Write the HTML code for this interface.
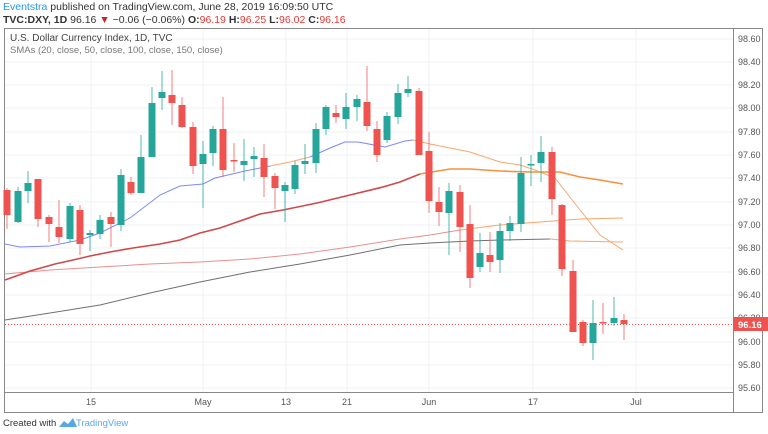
<!DOCTYPE html>
<html><head><meta charset="utf-8"><style>
body{margin:0;background:#fff;width:768px;height:434px;overflow:hidden;font-family:"Liberation Sans",sans-serif}
svg{position:absolute;left:0;top:0}
</style></head><body>
<svg width="768" height="434" xmlns="http://www.w3.org/2000/svg" font-family="Liberation Sans, sans-serif">
<text x="3" y="10" font-size="10.5" fill="#333"><tspan fill="#2196f3">Eventstra</tspan> published on TradingView.com, June 28, 2019 16:09:50 UTC</text>
<text x="3" y="23" font-size="10.5" fill="#333"><tspan font-weight="bold">TVC:DXY, 1D</tspan> 96.16 <tspan fill="#c62828">▼</tspan> −0.06 (−0.06%) <tspan font-weight="bold">O:</tspan><tspan fill="#e53935">96.19</tspan> <tspan font-weight="bold">H:</tspan><tspan fill="#e53935">96.25</tspan> <tspan font-weight="bold">L:</tspan><tspan fill="#e53935">96.02</tspan> <tspan font-weight="bold">C:</tspan><tspan fill="#e53935">96.16</tspan></text>
<rect x="4.5" y="28.5" width="758" height="384" fill="none" stroke="#888"/>
<g stroke="#eef1f5" stroke-width="1">
<line x1="5" x2="733" y1="39" y2="39"/><line x1="5" x2="733" y1="62" y2="62"/><line x1="5" x2="733" y1="85" y2="85"/><line x1="5" x2="733" y1="108" y2="108"/><line x1="5" x2="733" y1="132" y2="132"/><line x1="5" x2="733" y1="155" y2="155"/><line x1="5" x2="733" y1="178" y2="178"/><line x1="5" x2="733" y1="202" y2="202"/><line x1="5" x2="733" y1="225" y2="225"/><line x1="5" x2="733" y1="248" y2="248"/><line x1="5" x2="733" y1="272" y2="272"/><line x1="5" x2="733" y1="295" y2="295"/><line x1="5" x2="733" y1="318" y2="318"/><line x1="5" x2="733" y1="342" y2="342"/><line x1="5" x2="733" y1="365" y2="365"/><line x1="5" x2="733" y1="388" y2="388"/>
<line x1="91" x2="91" y1="29" y2="392"/><line x1="203" x2="203" y1="29" y2="392"/><line x1="286" x2="286" y1="29" y2="392"/><line x1="347" x2="347" y1="29" y2="392"/><line x1="429" x2="429" y1="29" y2="392"/><line x1="533" x2="533" y1="29" y2="392"/><line x1="636" x2="636" y1="29" y2="392"/>
</g>
<line x1="733.5" x2="733.5" y1="29" y2="412" stroke="#888"/>
<line x1="5" x2="733" y1="392.5" y2="392.5" stroke="#888"/>
<text x="10" y="41" font-size="10" fill="#444">U.S. Dollar Currency Index, 1D, TVC</text>
<text x="10" y="53" font-size="9.5" fill="#777">SMAs (20, close, 50, close, 100, close, 150, close)</text>
<g font-size="9" fill="#555">
<text x="738" y="42">98.60</text><text x="738" y="65">98.40</text><text x="738" y="88">98.20</text><text x="738" y="111">98.00</text><text x="738" y="135">97.80</text><text x="738" y="158">97.60</text><text x="738" y="181">97.40</text><text x="738" y="205">97.20</text><text x="738" y="228">97.00</text><text x="738" y="251">96.80</text><text x="738" y="275">96.60</text><text x="738" y="298">96.40</text><text x="738" y="321">96.20</text><text x="738" y="345">96.00</text><text x="738" y="368">95.80</text><text x="738" y="391">95.60</text>
</g>
<g font-size="9" fill="#555" text-anchor="middle">
<text x="91" y="405">15</text><text x="203" y="405">May</text><text x="286" y="405">13</text><text x="347" y="405">21</text><text x="429" y="405">Jun</text><text x="533" y="405">17</text><text x="636" y="405">Jul</text>
</g>
<g fill="none" stroke-width="1">
<polyline stroke="#333" stroke-opacity=".7" points="5,320 50,313 100,305 150,293 200,282 250,272 300,264 350,255 400,245 430,243 470,241 500,240 550,239"/>
<polyline stroke="#f9a66a" points="550,239 570,241 623,242"/>
<polyline stroke="#e57373" stroke-opacity=".8" points="5,274 50,270 100,267 150,264 200,262 250,259 300,254 350,247 400,239 430,235 460,230"/>
<polyline stroke="#f9a66a" points="460,230 500,225 540,222 580,219 623,218"/>
<polyline stroke="#5c6bf0" stroke-opacity=".8" points="5,244 20,247 50,246 80,240 100,233 130,218 160,195 180,186 203,184 215,178 245,171 270,166"/>
<polyline stroke="#f9a66a" points="270,166 290,162 310,157"/>
<polyline stroke="#5c6bf0" stroke-opacity=".8" points="310,157 330,148 345,142 358,142 385,147 405,141 413,140"/>
<polyline stroke="#f9a66a" points="413,140 430,144 450,148 470,152 500,162 520,165 535,170 555,178 580,210 600,235 623,250"/>
<polyline stroke="#d04848" stroke-width="1.6" points="5,280 30,271 55,264 73,260 90,256 110,252 133,248 160,244 180,240 200,233 220,228 240,221 260,214 283,210 317,203 350,195 383,187 400,182 420,174"/>
<polyline stroke="#f7913c" stroke-width="1.6" points="420,174 450,169 470,169 500,171 530,172 560,172 580,177 600,180 623,184"/>
</g>
<line x1="5" x2="733" y1="324.5" y2="324.5" stroke="#ef5350" stroke-dasharray="1,2"/>
<path stroke="#26a69a" stroke-opacity=".8" fill="none" d="M18 187V223M28 171V203M70 203V242M90 230V251M100 215V239M121 169V231M141 135V193M152 87V157M162 71V110M203 141V208M213 126V166M244 139V181M254 147V177M285 182V222M295 161V194M305 144V174M316 123V173M326 105V135M346 93V129M357 95V121M387 112V143M398 84V124M408 76V97M449 183V255M480 233V272M500 223V273M510 216V241M521 157V232M531 155V186M541 136V182M593 300V360M614 297V326"/>
<path stroke="#ef5350" stroke-opacity=".75" fill="none" d="M7 188V229M38 179V227M49 215V242M59 200V243M80 205V255M111 212V247M131 177V195M172 70V125M182 97V128M193 122V174M223 97V177M234 143V172M264 144V197M275 173V209M336 105V123M367 66V131M377 121V162M419 88V155M429 132V213M439 187V226M460 185V252M470 205V288M490 232V272M552 147V215M562 204V276M573 260V332M583 320V346M603 303V334M624 314V340"/>
<g fill="#26a69a">
<rect x="14.5" y="191" width="7" height="31"/><rect x="24.5" y="183" width="7" height="8"/><rect x="66.5" y="206" width="7" height="33"/><rect x="86.5" y="233" width="7" height="2"/><rect x="96.5" y="220" width="7" height="14"/><rect x="117.5" y="175" width="7" height="50"/><rect x="137.5" y="157" width="7" height="36"/><rect x="148.5" y="103" width="7" height="54"/><rect x="158.5" y="92" width="7" height="6"/><rect x="199.5" y="154" width="7" height="10"/><rect x="209.5" y="129" width="7" height="24"/><rect x="240.5" y="161" width="7" height="4"/><rect x="250.5" y="156" width="7" height="3"/><rect x="281.5" y="185" width="7" height="6"/><rect x="291.5" y="165" width="7" height="24"/><rect x="301.5" y="161" width="7" height="3"/><rect x="312.5" y="129" width="7" height="34"/><rect x="322.5" y="107" width="7" height="22"/><rect x="342.5" y="107" width="7" height="12"/><rect x="353.5" y="99" width="7" height="8"/><rect x="383.5" y="116" width="7" height="24"/><rect x="394.5" y="93" width="7" height="24"/><rect x="404.5" y="89" width="7" height="4"/><rect x="445.5" y="191" width="7" height="22"/><rect x="476.5" y="253" width="7" height="14"/><rect x="496.5" y="231" width="7" height="29"/><rect x="506.5" y="223" width="7" height="8"/><rect x="517.5" y="173" width="7" height="51"/><rect x="527.5" y="164" width="7" height="1.5"/><rect x="537.5" y="152" width="7" height="11"/><rect x="589.5" y="323" width="7" height="20"/><rect x="610.5" y="318" width="7" height="5"/>
</g>
<g fill="#ef5350">
<rect x="3.5" y="190" width="7" height="25"/><rect x="34.5" y="179" width="7" height="40"/><rect x="45.5" y="217" width="7" height="7"/><rect x="55.5" y="227" width="7" height="10"/><rect x="76.5" y="210" width="7" height="34"/><rect x="107.5" y="217" width="7" height="7"/><rect x="127.5" y="182" width="7" height="11"/><rect x="168.5" y="95" width="7" height="8"/><rect x="178.5" y="105" width="7" height="22"/><rect x="189.5" y="127" width="7" height="39"/><rect x="219.5" y="129" width="7" height="41"/><rect x="230.5" y="160" width="7" height="1.5"/><rect x="260.5" y="158" width="7" height="19"/><rect x="271.5" y="176" width="7" height="12"/><rect x="332.5" y="113" width="7" height="4"/><rect x="363.5" y="102" width="7" height="24"/><rect x="373.5" y="129" width="7" height="26"/><rect x="415.5" y="91" width="7" height="64"/><rect x="425.5" y="151" width="7" height="50"/><rect x="435.5" y="202" width="7" height="10"/><rect x="456.5" y="192" width="7" height="35"/><rect x="466.5" y="224" width="7" height="54"/><rect x="486.5" y="255" width="7" height="7"/><rect x="548.5" y="152" width="7" height="47"/><rect x="558.5" y="205" width="7" height="64"/><rect x="569.5" y="271" width="7" height="61"/><rect x="579.5" y="322" width="7" height="21"/><rect x="599.5" y="322" width="7" height="1.5"/><rect x="620.5" y="320" width="7" height="4"/>
</g>
<rect x="733" y="317" width="35" height="14" fill="#ef5350"/>
<text x="738" y="328" font-size="9.5" fill="#fff" font-weight="bold">96.16</text>
<text x="3" y="426" font-size="9.5" fill="#333">Created with</text>
<path d="M59,427 l5,-6 4,3 5,-6 4,9z" fill="#5aa7e8"/>
<text x="76" y="426" font-size="9.5" fill="#5aa7e8">TradingView</text>
</svg>
</body></html>
